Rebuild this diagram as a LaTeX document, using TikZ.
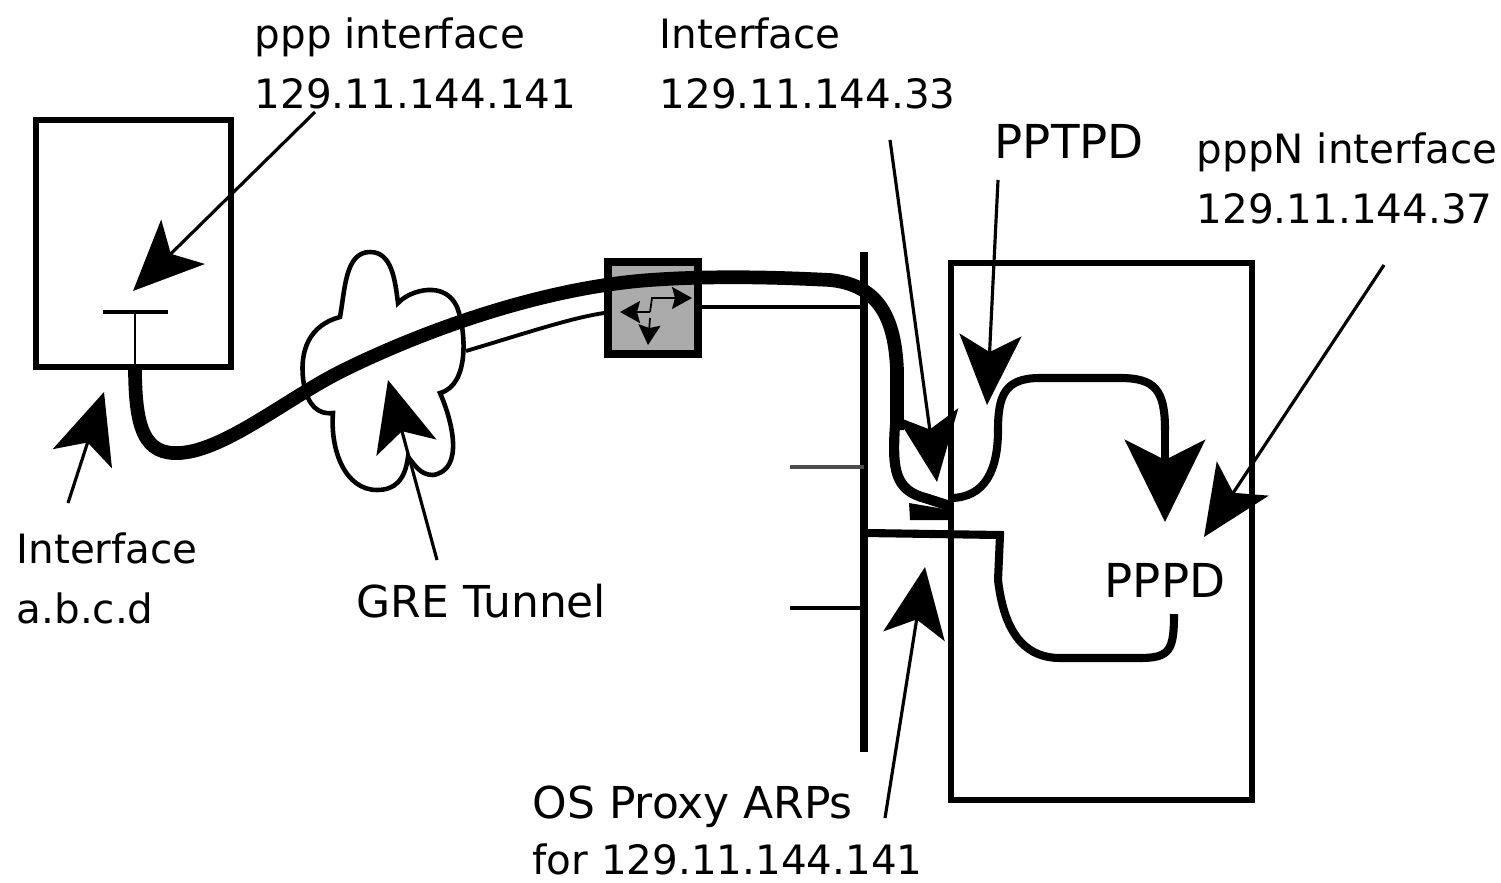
\documentclass[tikz,border=0pt]{standalone}
\usepackage{fontspec}
\setmainfont{DejaVu Sans}
\usetikzlibrary{positioning,arrows.meta}
\tikzset{
  lbl/.style={inner sep=0pt,align=left,anchor=north west,font=\fontsize{11.5}{17}\selectfont},
  lblbig/.style={lbl,font=\fontsize{12.5}{17}\selectfont},
  lblcap/.style={lbl,font=\fontsize{13.3}{17}\selectfont},
  callout/.style={draw,line width=.9pt,-{Stealth[length=7mm,width=6.2mm,inset=1.7mm]}},
  bigbox/.style={draw,line width=1.6pt},
  thickline/.style={draw,line width=3.9pt},
  midline/.style={draw,line width=2.3pt},
  thinline/.style={draw,line width=1.1pt},
  smalltip/.style={draw,line width=.5pt,-{Stealth[length=2mm,width=2.2mm,inset=.3mm]}}
}
\begin{document}
\begin{tikzpicture}[x=0.01cm,y=-0.01cm]
    \useasboundingbox (0,0) rectangle (1501,882);
    % boxes
    \node(Client) [bigbox,inner sep=0pt,minimum width=1.95cm,minimum height=2.47cm] at (133.5,243.5) {};
    \node(Server) [bigbox,inner sep=0pt,minimum width=3.01cm,minimum height=5.37cm] at (1101.5,531.5) {};
    \node(Router) [bigbox,fill=black!33,line width=2.2pt,inner sep=0pt,minimum width=.9cm,minimum height=.92cm] at (653,308) {};
    % labels
    \node(Lppp) [lbl] at (254,17) {ppp interface\\129.11.144.141};
    \node(Lif) [lbl] at (659,17) {Interface\\129.11.144.33};
    \node(Lpptpd) [lblcap] at (994,124) {PPTPD};
    \node(Lpppn) [lbl] at (1196,132) {pppN interface\\129.11.144.37};
    \node(Labcd) [lbl] at (16,532) {Interface\\a.b.c.d};
    \node(Lgre) [lblbig] at (356,583) {GRE Tunnel};
    \node(Lpppd) [lblcap] at (1104,563) {PPPD};
    \node(Los) [lblbig] at (532,785) {OS Proxy ARPs};
    \node(Lfor) [lbl] at (532,843) {for 129.11.144.141};
    % free ends
    \coordinate(Bar1) at (103,312);
    \coordinate(Bar2) at (168,312);
    \coordinate(Stem) at (135,312);
    \coordinate(Wan) at (135,367);
    \coordinate(Lan1) at (864,252);
    \coordinate(Lan2) at (864,752);
    \coordinate(Stub1) at (790,467);
    \coordinate(Stub2) at (790,608);
    % cloud
    \draw[line width=1.3pt,fill=white] (304,385) .. controls (298,350) and (310,325) .. (340,317)
        .. controls (345,290) and (345,252) .. (370,252)
        .. controls (392,252) and (395,280) .. (398,303)
        .. controls (410,290) and (445,280) .. (457,307)
        .. controls (466,330) and (470,385) .. (440,393)
        .. controls (452,420) and (465,470) .. (433,475)
        .. controls (420,475) and (415,465) .. (408,457)
        .. controls (405,480) and (395,490) .. (377,490)
        .. controls (345,490) and (330,450) .. (333,413)
        .. controls (318,415) and (308,405) .. (304,385);
    % tunnel lines
    \draw[thinline] (466,351) .. controls (520,335) and (570,318) .. (Router.west |- 0,313);
    \draw[thinline] (Router.east |- 0,307) -- (Lan1 |- 0,307);
    \draw[thickline] (Wan) .. controls (135,430) and (145,455) .. (180,453)
        .. controls (225,450) and (285,400) .. (340,372)
        .. controls (420,332) and (540,288) .. (650,280)
        .. controls (720,275) and (790,278) .. (830,280)
        .. controls (880,285) and (895,320) .. (897,370) -- (897,430);
    \draw[line width=2.9pt] (895,425) .. controls (892,470) and (895,490) .. (925,498) -- (950,506);
    \fill (909,503) -- (950,510) -- (950,520) -- (910,520) -- cycle;
    % router arrows
    \draw[smalltip] (650,318) -- (648,345);
    \draw[smalltip] (650,312) -- (620,312);
    \draw[smalltip] (650,312) -- (652,298) -- (692,298);
    % lan
    \draw[line width=2.2pt] (Lan1) -- (Lan2);
    \draw[thinline,draw=black!70] (Stub1) -- (Lan1 |- Stub1);
    \draw[thinline,line width=1.4pt] (Stub2) -- (Lan1 |- Stub2);
    \draw[thinline,line width=1.3pt] (Bar1) -- (Bar2);
    \draw[line width=.8pt] (Stem) -- (Wan);
    % server paths
    \draw[midline] (950,498) .. controls (985,498) and (998,470) .. (998,430)
        .. controls (998,395) and (1005,378) .. (1040,378) -- (1120,378)
        .. controls (1155,378) and (1165,390) .. (1165,430);
    \draw[line width=2.4pt,-{Stealth[length=8.2mm,width=8mm,inset=2mm]}] (1165,420) -- (1165,522);
    \draw[midline] (866,533) -- (1000,535) -- (998,580)
        .. controls (1005,640) and (1030,658) .. (1060,658) -- (1140,658)
        .. controls (1170,658) and (1174,650) .. (1174,614);
    % callouts
    \coordinate(Tppp) at (133,291);
    \coordinate(Sppp) at (315,112);
    \coordinate(Tabcd) at (104,392);
    \coordinate(Sabcd) at (68,503);
    \coordinate(Tgre) at (388,380);
    \coordinate(Sgre) at (437,560);
    \coordinate(Tif) at (937,482);
    \coordinate(Sif) at (890,140);
    \coordinate(Tpptpd) at (987,405);
    \coordinate(Spptpd) at (998,180);
    \coordinate(Tpppn) at (1204,537);
    \coordinate(Spppn) at (1384,265);
    \coordinate(Tos) at (925,567);
    \coordinate(Sos) at (885,818);
    \draw[callout] (Sppp) -- (Tppp);
    \draw[callout] (Sabcd) -- (Tabcd);
    \draw[callout] (Sgre) -- (Tgre);
    \draw[callout] (Sif) -- (Tif);
    \draw[callout] (Spptpd) -- (Tpptpd);
    \draw[callout] (Spppn) -- (Tpppn);
    \draw[callout] (Sos) -- (Tos);
\end{tikzpicture}
\end{document}
